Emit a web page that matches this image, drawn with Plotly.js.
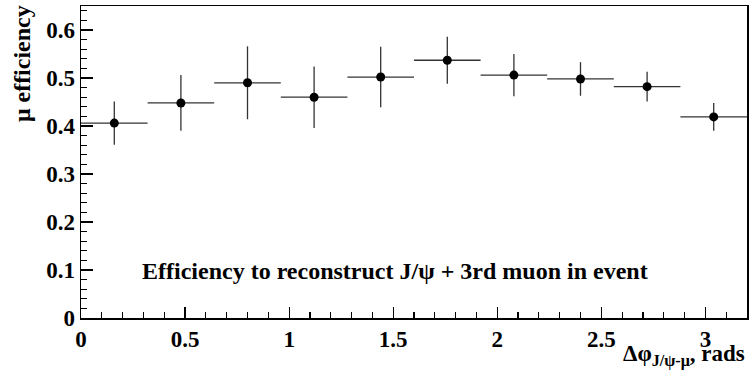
<!DOCTYPE html>
<html>
<head>
<meta charset="utf-8">
<script src="https://cdn.plot.ly/plotly-3.0.1.min.js"></script>
<style>body{margin:0;padding:0;background:#fff;} #chart{width:749px;height:379px;}</style>
</head>
<body>
<div id="chart"></div>
<script>
var binCenters = [0.16, 0.48, 0.80, 1.12, 1.44, 1.76, 2.08, 2.40, 2.72, 3.04];
var binHalfWidth = [0.16, 0.16, 0.16, 0.16, 0.16, 0.16, 0.16, 0.16, 0.16, 0.16];
var efficiency = [0.406, 0.448, 0.490, 0.460, 0.502, 0.537, 0.506, 0.498, 0.482, 0.419];
var effError = [0.045, 0.058, 0.076, 0.064, 0.063, 0.049, 0.044, 0.035, 0.031, 0.029];

var fontFam = 'Liberation Serif';

var trace = {
  x: binCenters,
  y: efficiency,
  type: 'scatter',
  mode: 'markers',
  marker: {color: '#000', size: 9, symbol: 'circle'},
  error_y: {type: 'data', array: effError, visible: true, color: '#333', thickness: 1.3, width: 0},
  error_x: {type: 'data', array: binHalfWidth, visible: true, color: '#333', thickness: 1.3, width: 0},
  showlegend: false,
  hoverinfo: 'x+y'
};

var layout = {
  width: 749, height: 379,
  margin: {l: 81, r: 2, t: 6, b: 61, pad: 0},
  paper_bgcolor: '#fff', plot_bgcolor: '#fff',
  font: {family: fontFam, color: '#000', size: 23, weight: 'bold'},
  xaxis: {
    range: [0, 3.2], showgrid: false, zeroline: false,
    showline: true, linecolor: '#000', linewidth: 1.5, mirror: true,
    ticks: 'inside', ticklen: 11, tickwidth: 1.2, tickcolor: '#000',
    dtick: 0.5, tick0: 0,
    minor: {ticks: 'inside', ticklen: 6, dtick: 0.1, tickcolor: '#000', tickwidth: 1.2, showgrid: false},
    tickfont: {family: fontFam, size: 23, color: '#000', weight: 'bold'}
  },
  yaxis: {
    range: [0, 0.65], showgrid: false, zeroline: false,
    showline: true, linecolor: '#000', linewidth: 1.5, mirror: true,
    ticks: 'inside', ticklen: 12, tickwidth: 1.2, tickcolor: '#000',
    dtick: 0.1, tick0: 0,
    minor: {ticks: 'inside', ticklen: 6, dtick: 0.02, tickcolor: '#000', tickwidth: 1.2, showgrid: false},
    tickfont: {family: fontFam, size: 23, color: '#000', weight: 'bold'}
  },
  annotations: [
    {text: 'Efficiency to reconstruct J/ψ + 3rd muon in event', xref: 'paper', yref: 'paper',
     x: 0.472, y: 0.152, xanchor: 'center', yanchor: 'middle', showarrow: false,
     font: {family: fontFam, size: 24, color: '#000', weight: 'bold'}},
    {text: 'Δφ<sub>J/ψ-μ</sub>, rads', xref: 'paper', yref: 'paper',
     x: 1.0, y: -0.068, xanchor: 'right', yanchor: 'top', showarrow: false,
     font: {family: fontFam, size: 23, color: '#000', weight: 'bold'}},
    {text: 'μ efficiency', xref: 'paper', yref: 'paper', textangle: -90,
     x: -0.11, y: 1.01, xanchor: 'left', yanchor: 'top', showarrow: false,
     font: {family: fontFam, size: 24, color: '#000', weight: 'bold'}}
  ]
};

Plotly.newPlot('chart', [trace], layout, {displayModeBar: false, staticPlot: true});
</script>
</body>
</html>
